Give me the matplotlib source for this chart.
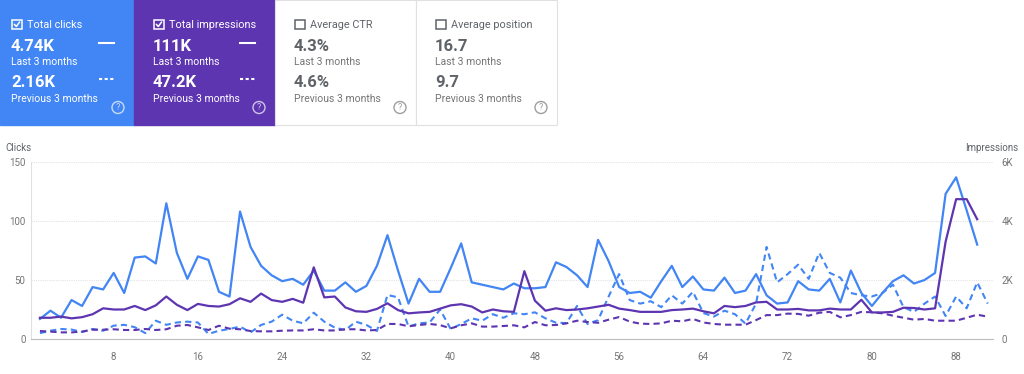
import numpy as np
import matplotlib
matplotlib.use('Agg')
import matplotlib.pyplot as plt
from matplotlib.patches import Rectangle, Circle

plt.rcParams['font.family'] = ['Roboto', 'DejaVu Sans']

# Current period (last 3 months)
clicks_cur = [17, 24, 18, 33, 28, 44, 42, 56, 39, 69,
              70, 64, 115, 73, 51, 70, 67, 40, 36, 108,
              78, 62, 54, 49, 51, 46, 58, 41, 41, 48,
              40, 45, 62, 88, 58, 30, 51, 40, 40, 60,
              81, 48, 46, 44, 42, 47, 43, 43, 44, 65,
              61, 54, 44, 84, 66, 44, 39, 40, 35, 49,
              62, 44, 53, 42, 41, 52, 39, 41, 55, 37,
              30, 31, 49, 42, 41, 51, 31, 58, 39, 28,
              39, 49, 54, 47, 50, 56, 123, 137, 109, 80]
impr_cur = [720, 720, 760, 700, 740, 840, 1040, 1000, 1000, 1120,
            980, 1140, 1440, 1160, 980, 1190, 1120, 1100, 1180, 1380,
            1260, 1540, 1320, 1260, 1360, 1230, 2430, 1410, 1440, 1070,
            940, 920, 1020, 1210, 980, 870, 900, 920, 1030, 1140,
            1180, 1100, 900, 1000, 940, 920, 2300, 1300, 960, 1040,
            980, 1000, 1040, 1100, 1160, 1030, 980, 920, 920, 920,
            980, 1000, 1030, 940, 870, 1120, 1080, 1120, 1240, 1260,
            1000, 1000, 1020, 970, 970, 1030, 1000, 1000, 1330, 900,
            900, 920, 1060, 1050, 1000, 1040, 3300, 4740, 4740, 4060]

# Previous period (previous 3 months)
clicks_prev = [5, 7, 8.5, 8, 6, 8.5, 7, 11.3, 12, 10,
               5, 15.5, 12, 14, 14.7, 14, 4.3, 7, 8.5, 10.5,
               5.6, 11.9, 14.7, 20.6, 15.5, 13.3, 22.3, 14.7, 9.6, 7.6,
               14.7, 11.9, 6.8, 37.3, 35.3, 10.5, 13.3, 14, 25, 8.5,
               12.7, 17.5, 15.5, 21, 18, 21.8, 21, 22.6, 17.5, 13.8,
               13.5, 28, 12.7, 16, 36, 55, 33, 30, 32, 27,
               37, 30, 40, 22, 19, 24, 21, 13, 30, 78,
               48, 55, 63, 51, 73, 56, 52, 39, 37, 36,
               39, 46, 27, 23, 30, 36, 19.5, 36, 26, 48, 30]
impr_prev = [270, 250, 225, 225, 250, 315, 315, 330, 305, 305,
             340, 305, 330, 450, 475, 395, 305, 450, 350, 330,
             270, 260, 260, 280, 290, 290, 330, 290, 290, 330,
             330, 290, 305, 510, 510, 430, 475, 510, 470, 360,
             465, 530, 420, 420, 440, 465, 395, 575, 465, 475,
             530, 620, 575, 550, 655, 745, 590, 520, 510, 530,
             620, 600, 680, 560, 510, 485, 485, 485, 640, 810,
             810, 860, 850, 790, 890, 920, 735, 810, 920, 905,
             870, 790, 720, 655, 680, 620, 620, 620, 720, 825, 755]

x_ticks = [8, 16, 24, 32, 40, 48, 56, 64, 72, 80, 88]

# summary cards: (title, current, previous, selected, colour)
cards = [
    ('Total clicks', '4.74K', '2.16K', True, '#4285f4'),
    ('Total impressions', '111K', '47.2K', True, '#5e35b1'),
    ('Average CTR', '4.3%', '4.6%', False, 'white'),
    ('Average position', '16.7', '9.7', False, 'white'),
]
card_edges = [0, 134, 275, 416, 557]

BLUE = '#4285f4'
PURPLE = '#5e35b1'
GRAY = '#757575'

fig = plt.figure(figsize=(10.24, 3.74), dpi=100)

# ---- card strip, drawn in pixel coordinates
ov = fig.add_axes([0, 0, 1, 1])
ov.set_xlim(0, 1024)
ov.set_ylim(374, 0)
ov.axis('off')

for i, (title, cur, prev, sel, col) in enumerate(cards):
    x0, x1 = card_edges[i], card_edges[i + 1]
    if sel:
        ov.add_patch(Rectangle((x0, 0), x1 - x0, 125, color=col, zorder=1))
        fg, sub, icon = 'white', 'white', (1, 1, 1, 0.7)
    else:
        ov.add_patch(Rectangle((x0, 0), x1 - x0, 125, facecolor='white',
                               edgecolor='#e0e0e0', lw=0.8, zorder=1))
        fg, sub, icon = '#5f6368', GRAY, '#9e9e9e'
    tx = x0 + 11 if i == 0 else x0 + 19
    # checkbox
    ov.add_patch(Rectangle((tx + 1, 19.5), 9.5, 9.5, fill=False,
                           ec=fg, lw=1.1, zorder=2))
    if sel:
        ov.plot([tx + 3.3, tx + 5.3, tx + 8.6], [24.3, 26.5, 22],
                color=fg, lw=1.1, zorder=3, solid_capstyle='round')
    ov.text(tx + 16, 24.5, title, color=fg, fontsize=7.8, va='center', zorder=3)
    ov.text(tx, 46.5, cur, color=fg, fontsize=12, fontweight='bold',
            va='center', zorder=3)
    ov.text(tx, 62, 'Last 3 months', color=sub, fontsize=7.5, va='center', zorder=3)
    ov.text(tx, 82.5, prev, color=fg, fontsize=12, fontweight='bold',
            va='center', zorder=3)
    ov.text(tx, 98.5, 'Previous 3 months', color=sub, fontsize=7.5,
            va='center', zorder=3)
    if sel:
        ov.plot([x1 - 35, x1 - 20], [43, 43], color='white', lw=1.5, zorder=3)
        ov.plot([x1 - 35, x1 - 20], [78.5, 78.5], color='white', lw=1.5,
                ls=(0, (1.5, 1.2)), zorder=3)
    ov.add_patch(Circle((x1 - 16, 107.5), 6, fill=False, ec=icon, lw=1.0, zorder=3))
    ov.text(x1 - 16, 107.8, '?', color=icon, fontsize=6.5, ha='center',
            va='center', zorder=3)

ov.text(5, 148, 'Clicks', color='#5f6368', fontsize=7, va='center')
ov.text(1018, 148, 'Impressions', color='#5f6368', fontsize=7, va='center', ha='right')

# ---- chart
ax = fig.add_axes([31 / 1024, 1 - 339 / 374, (993 - 31) / 1024, (339 - 162) / 374])
ax2 = ax.twinx()

days_cur = np.arange(1, len(clicks_cur) + 1)
days_prev = np.arange(1, len(clicks_prev) + 1)

ax.plot(days_prev, clicks_prev, color=BLUE, lw=1.5, ls=(0, (3, 2)))
ax.plot(days_cur, clicks_cur, color=BLUE, lw=1.6)
ax2.plot(days_prev, impr_prev, color=PURPLE, lw=1.5, ls=(0, (3, 2)))
ax2.plot(days_cur, impr_cur, color=PURPLE, lw=1.6)

ax.set_xlim(0.15, 91.5)
ax.set_ylim(0, 150)
ax2.set_ylim(0, 6000)
ax.set_yticks([0, 50, 100, 150])
ax2.set_yticks([0, 2000, 4000, 6000])
ax2.set_yticklabels(['0', '2K', '4K', '6K'])
ax.set_xticks(x_ticks)

ax.grid(axis='y', color='#e3e3e3', lw=0.8, ls=(0, (1, 1)))
ax.set_axisbelow(True)
for a in (ax, ax2):
    for s in a.spines.values():
        s.set_visible(False)
ax.spines['bottom'].set_visible(True)
ax.spines['bottom'].set_color('#bdbdbd')
ax.spines['left'].set_visible(True)
ax.spines['left'].set_color('#e0e0e0')

ax.tick_params(axis='y', length=0, pad=4, labelsize=7, labelcolor=GRAY)
ax.tick_params(axis='x', length=0, pad=9, labelsize=7, labelcolor=GRAY)
ax2.tick_params(axis='y', length=0, pad=6, labelsize=7, labelcolor=GRAY)

fig.savefig('out.png', dpi=100)
